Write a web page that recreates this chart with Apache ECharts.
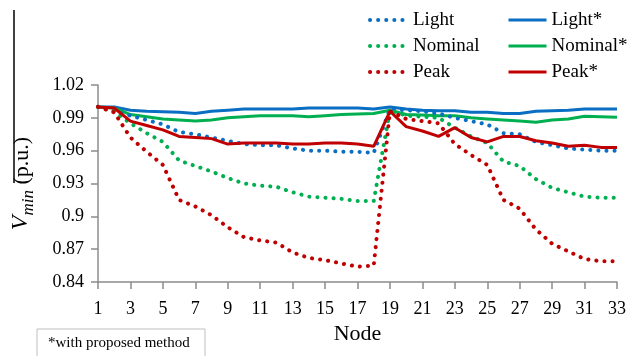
<!DOCTYPE html>
<html>
<head>
<meta charset="utf-8">
<script src="https://cdn.jsdelivr.net/npm/echarts@6/dist/echarts.min.js"></script>
<style>
	html, body { margin: 0; padding: 0; background: #fff; }
	#main { width: 643px; height: 356px; }
</style>
</head>
<body>
<div id="main"></div>
<script>
	// node numbers 1..33
	var nodes = ['1','2','3','4','5','6','7','8','9','10','11','12','13','14','15','16','17',
		'18','19','20','21','22','23','24','25','26','27','28','29','30','31','32','33'];

	var light = [1.0, 0.996, 0.992, 0.988, 0.984, 0.977, 0.975, 0.972, 0.969, 0.966, 0.965, 0.965, 0.962, 0.960, 0.960, 0.959, 0.959,
		0.958, 0.998, 0.997, 0.996, 0.994, 0.990, 0.987, 0.984, 0.976, 0.975, 0.968, 0.965, 0.962, 0.961, 0.960, 0.960];
	var nominal = [1.0, 0.996, 0.985, 0.976, 0.968, 0.951, 0.946, 0.941, 0.935, 0.930, 0.928, 0.927, 0.922, 0.918, 0.917, 0.916, 0.914,
		0.914, 0.997, 0.992, 0.991, 0.990, 0.981, 0.973, 0.967, 0.950, 0.946, 0.934, 0.926, 0.922, 0.918, 0.917, 0.917];
	var peak = [1.0, 0.995, 0.972, 0.959, 0.947, 0.915, 0.909, 0.901, 0.890, 0.881, 0.878, 0.876, 0.867, 0.862, 0.860, 0.857, 0.854,
		0.855, 0.996, 0.989, 0.987, 0.985, 0.966, 0.956, 0.947, 0.915, 0.907, 0.888, 0.875, 0.868, 0.861, 0.859, 0.859];
	var lightStar = [1.0, 1.0, 0.997, 0.996, 0.9955, 0.995, 0.994, 0.996, 0.997, 0.998, 0.998, 0.998, 0.998, 0.999, 0.999, 0.999, 0.999,
		0.998, 1.0, 0.998, 0.997, 0.9965, 0.9965, 0.995, 0.995, 0.994, 0.994, 0.996, 0.9965, 0.997, 0.998, 0.998, 0.998];
	var nominalStar = [1.0, 0.999, 0.993, 0.991, 0.989, 0.988, 0.987, 0.988, 0.990, 0.991, 0.992, 0.992, 0.992, 0.991, 0.992, 0.993, 0.9935,
		0.994, 0.997, 0.993, 0.9925, 0.992, 0.992, 0.990, 0.989, 0.988, 0.987, 0.986, 0.988, 0.989, 0.9915, 0.991, 0.9905];
	var peakStar = [1.0, 0.999, 0.987, 0.983, 0.979, 0.973, 0.972, 0.971, 0.966, 0.967, 0.967, 0.967, 0.966, 0.966, 0.967, 0.967, 0.966,
		0.964, 0.996, 0.982, 0.978, 0.973, 0.981, 0.972, 0.968, 0.973, 0.973, 0.969, 0.967, 0.964, 0.965, 0.963, 0.963];

	var BLUE = '#0a6fc2', GREEN = '#00b050', RED = '#c00000';
	var SERIF = '"Liberation Serif", "Times New Roman", serif';

	function dotted(name, data, color) {
		return {
			name: name, type: 'line', data: data, symbol: 'none', color: color,
			lineStyle: { color: color, width: 4, type: [0.1, 8], cap: 'round' }
		};
	}
	function solid(name, data, color) {
		return {
			name: name, type: 'line', data: data, symbol: 'none', color: color,
			lineStyle: { color: color, width: 3, type: 'solid' }
		};
	}

	// the line series legend adds a circle when symbol is none, so hide it
	function legendCol(left, names, lineWidth) {
		return {
			orient: 'vertical',
			left: left,
			top: 10,
			padding: 0,
			itemWidth: 38,
			itemHeight: 14,
			itemGap: 6,
			itemStyle: { opacity: 0 },
			lineStyle: { width: lineWidth },
			textStyle: { fontFamily: SERIF, fontSize: 19, color: '#000', lineHeight: 20 },
			data: names
		};
	}

	var chart = echarts.init(document.getElementById('main'));
	chart.setOption({
		animation: false,
		backgroundColor: '#fff',
		legend: [
			legendCol(368, ['Light', 'Nominal', 'Peak'], 4),
			legendCol(507, ['Light*', 'Nominal*', 'Peak*'], 3)
		],
		grid: { left: 98, right: 26, top: 85, bottom: 74 },
		xAxis: {
			type: 'category',
			data: nodes,
			boundaryGap: false,
			name: 'Node',
			nameLocation: 'middle',
			nameGap: 41,
			nameTextStyle: { fontFamily: SERIF, fontSize: 22, color: '#000' },
			axisLine: { lineStyle: { color: '#8c8c8c', width: 1.5 } },
			axisTick: { interval: 1, length: 7, lineStyle: { color: '#8c8c8c', width: 1.5 } },
			axisLabel: { interval: 1, margin: 18, fontFamily: SERIF, fontSize: 18, color: '#000' },
			splitLine: { show: false }
		},
		yAxis: {
			type: 'value',
			min: 0.84,
			max: 1.02,
			interval: 0.03,
			name: '{v|V}{s|min}{n| (p.u.)}',
			nameLocation: 'middle',
			nameRotate: 90,
			nameGap: 65,
			nameTextStyle: {
				fontFamily: SERIF, color: '#000',
				rich: {
					v: { fontFamily: SERIF, fontSize: 24, fontStyle: 'italic', lineHeight: 26, verticalAlign: 'bottom' },
					s: { fontFamily: SERIF, fontSize: 17, fontStyle: 'italic', lineHeight: 26, verticalAlign: 'bottom', padding: [0, 0, -4, 0] },
					n: { fontFamily: SERIF, fontSize: 22, lineHeight: 26, verticalAlign: 'bottom' }
				}
			},
			axisLine: { show: true, lineStyle: { color: '#8c8c8c', width: 1.5 } },
			axisTick: { show: true, length: 7, lineStyle: { color: '#8c8c8c', width: 1.5 } },
			axisLabel: {
				margin: 14, fontFamily: SERIF, fontSize: 18, color: '#000',
				formatter: function (v) { return String(parseFloat(v.toFixed(2))); }
			},
			splitLine: { show: false }
		},
		graphic: [
			{ type: 'line', shape: { x1: 14, y1: 10, x2: 14, y2: 183 }, style: { stroke: '#000', lineWidth: 1.5 } },
			{ type: 'rect', shape: { x: 37, y: 329, width: 168, height: 40 }, style: { fill: '#fff', stroke: '#bfbfbf', lineWidth: 1 } },
			{ type: 'text', left: 48, top: 336, style: { text: '*with proposed method', font: '15px ' + SERIF, fill: '#000' } }
		],
		series: [
			solid('Light*', lightStar, BLUE),
			solid('Nominal*', nominalStar, GREEN),
			dotted('Light', light, BLUE),
			dotted('Nominal', nominal, GREEN),
			dotted('Peak', peak, RED),
			solid('Peak*', peakStar, RED)
		]
	});
</script>
</body>
</html>
